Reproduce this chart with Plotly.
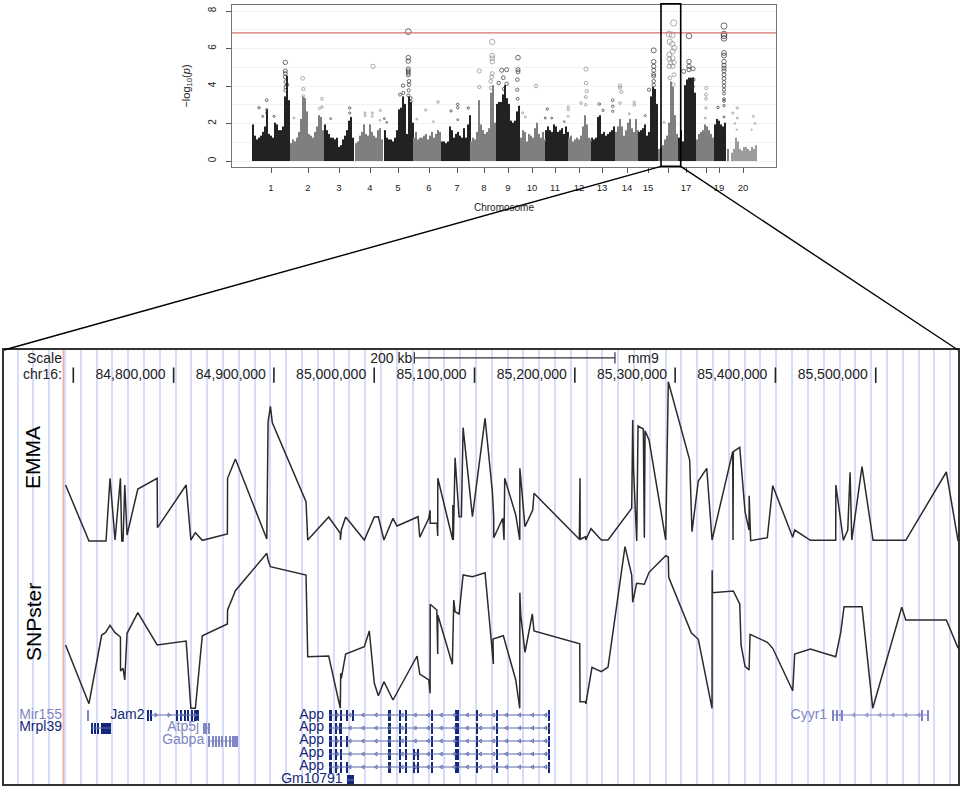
import numpy as np
import plotly.graph_objects as go

W = 963
H = 789

# top panel: manhattan plot, x is in plot units along the genome
chrom_ticks = [39, 76, 107, 138, 166, 197, 225, 252, 276, 300, 323, 347, 370, 395, 416, 454, 487, 511]
chrom_labels = ["1", "2", "3", "4", "5", "6", "7", "8", "9", "10", "11", "12", "13", "14", "15", "17", "19", "20"]
unlabelled_ticks = [436, 474]
y_ticks = [0, 2, 4, 6, 8]
threshold = 6.83

chrom_start = [20, 58, 92, 123, 152, 181, 209, 238, 264, 288, 313, 336, 359, 383, 406, 426, 446, 464, 482, 495, 499]
chrom_shade = ["k", "g", "k", "g", "k", "g", "k", "g", "k", "g", "k", "g", "k", "g", "k", "g", "k", "g", "k", "g", "l"]
chrom_tops = [
    [1.9, 1.3, 1.1, 1.2, 1.3, 1.5, 1.8, 2.7, 1.4, 1.3, 1.2, 2.0, 1.9, 1.6, 1.6, 1.8, 3.4, 4.5, 3.2],
    [0.9, 1.1, 1.0, 1.2, 1.5, 2.2, 3.4, 3.3, 2.6, 1.4, 1.3, 1.2, 1.5, 1.8, 2.4, 2.3, 1.6],
    [1.9, 1.6, 1.4, 1.2, 1.2, 1.1, 1.2, 0.7, 0.8, 1.1, 1.3, 1.6, 2.1, 2.3, 1.2],
    [0.9, 1.0, 1.3, 1.5, 1.9, 1.4, 1.3, 1.9, 1.5, 1.3, 1.2, 1.6, 1.7, 1.1],
    [1.6, 1.2, 1.1, 1.1, 1.0, 1.2, 1.6, 2.7, 2.8, 3.4, 3.0, 1.4, 3.4, 3.1, 2.0],
    [1.2, 1.5, 1.1, 1.2, 1.2, 1.3, 1.4, 1.1, 1.3, 1.5, 1.2, 1.4, 1.6, 1.5],
    [1.0, 1.0, 0.9, 1.0, 1.8, 1.6, 1.2, 1.4, 1.5, 1.3, 1.2, 1.7, 1.2, 1.9, 2.4],
    [1.0, 1.2, 1.1, 1.5, 3.2, 1.9, 1.6, 1.4, 1.5, 1.7, 3.6, 4.0, 2.0],
    [3.0, 3.1, 3.1, 3.5, 4.0, 3.3, 3.0, 2.1, 2.0, 2.1, 2.6, 2.9],
    [1.2, 1.6, 1.5, 1.0, 1.4, 1.3, 1.2, 1.7, 2.0, 1.4, 1.2, 1.5, 1.1],
    [1.6, 1.8, 1.6, 1.5, 1.9, 1.8, 1.5, 1.6, 1.7, 1.4, 1.8, 1.5],
    [1.2, 1.3, 1.0, 1.1, 1.2, 1.1, 1.3, 1.8, 2.4, 1.9, 1.2, 1.1],
    [1.2, 1.1, 1.2, 2.3, 2.4, 1.4, 1.5, 1.3, 1.4, 1.5, 1.6, 1.8],
    [1.5, 1.8, 2.2, 1.8, 1.3, 1.6, 2.0, 2.2, 1.7, 1.5, 2.2, 1.6],
    [1.5, 1.6, 1.7, 1.9, 1.3, 1.5, 3.4, 3.9, 3.8, 3.0],
    [0.6, 0.7, 0.8, 1.1, 1.3, 2.0, 4.2, 3.9, 2.4, 1.4],
    [1.2, 1.6, 1.0, 4.0, 4.3, 4.4, 4.4, 4.4, 3.6],
    [1.1, 1.4, 1.5, 1.6, 1.9, 1.8, 1.6, 1.4, 1.2],
    [1.9, 2.2, 2.1, 1.9, 1.8, 2.0],
    [0.6],
    [0.4, 0.6, 1.2, 1.0, 0.6, 0.5, 0.7, 0.7, 0.6, 0.5, 0.7, 0.6, 0.8],
]

# strongest snps, read one by one
hits_dark_x = [27, 34.7, 53.3, 53.3, 53.3, 53.3, 53.7, 53.7, 53.3, 55, 42, 30.7, 34.7, 34.7,
               98.7, 117.7, 117.7,
               176.3, 176.3, 176.3, 176.3, 176.3, 176.3, 176.3, 177, 177, 176.7, 176.3, 171, 171.3, 168, 178.7, 179, 152.3, 154.7,
               225.7, 225.7, 219, 236.3, 225.7,
               269.7, 274.7, 286, 286, 286, 285.3, 271.3, 266.7, 274.7, 272, 285.3, 285.7,
               315.3, 313.3, 319.7, 332.3,
               367.3, 380.7, 380.7, 380.7, 371,
               421.7, 421.7, 421.7, 421.7, 421.7, 421.7, 421.7, 421.7, 417, 413.3,
               457, 457, 457, 451.7, 461, 457, 461.3, 460.7,
               492, 492, 492, 492, 492, 492, 492, 492, 492, 492, 492, 492, 492, 492, 492, 492, 492, 492, 492, 492, 486]
hits_dark_y = [2.84, 3.24, 5.26, 4.8, 4.66, 4.48, 4.23, 3.95, 3.77, 4.07, 2.38, 2.38, 2.74, 2.56,
               2.26, 2.83, 2.56,
               6.9, 5.51, 5.33, 4.91, 4.8, 4.69, 4.59, 4.25, 4.07, 3.77, 3.5, 4.02, 3.63, 3.54, 3.36, 3.18, 2.26, 2.06,
               3.02, 2.84, 2.67, 2.83, 2.2,
               4.84, 4.87, 5.51, 4.87, 4.76, 4.34, 4.44, 4.16, 4.12, 3.84, 3.8, 3.32,
               2.77, 2.29, 2.29, 2.1,
               3.04, 3.24, 2.92, 2.65, 2.7,
               5.9, 5.3, 5.05, 4.84, 4.62, 4.52, 4.25, 4.05, 3.8, 2.42,
               6.67, 5.3, 5.05, 4.78, 4.92, 4.87, 4.34, 3.98,
               7.2, 6.77, 6.67, 6.54, 5.76, 5.62, 5.3, 5.1, 4.95, 4.8, 4.6, 4.4, 4.2, 4.0, 3.8, 3.6, 3.3, 3.2, 2.95, 2.35, 2.86]
hits_grey_x = [70.7, 71.3, 87.3, 90, 90, 62, 71.3, 72,
               141, 148.3, 133, 133, 140.3, 140.3, 148,
               206, 193.7, 184.7, 201.3,
               247.3, 247.3, 260.3, 260.3, 260.3, 260.3, 260.3, 259.7, 258.7, 259,
               304, 290.7, 293.3,
               354, 354, 354.7, 353.7, 349, 353.7, 336.3, 336.3, 336.3,
               388, 388, 389.3, 388, 402.3, 402.3, 397.3,
               441.7, 437, 440.3, 437.7, 440.3, 442.3, 440.7, 437.3, 437.3, 440.7, 442, 437.3, 440.7, 438.7, 442, 438, 441.3, 432,
               474.3, 474, 474, 474, 473.3,
               505.3, 500.7, 505.3, 521.3, 503, 523, 519.7, 504.7]
hits_grey_y = [4.41, 3.84, 2.8, 3.32, 2.88, 2.3, 3.45, 3.27,
               5.05, 2.7, 2.56, 2.42, 2.56, 2.38, 2.17,
               3.15, 2.72, 2.24, 2.1,
               4.8, 3.95, 6.35, 5.62, 5.48, 5.3, 4.66, 4.48, 4.25, 3.9,
               4.0, 2.56, 2.35,
               4.9, 4.16, 3.73, 3.41, 3.09, 3.0, 2.88, 2.74, 2.38,
               4.02, 3.91, 3.68, 3.09, 3.13, 2.99, 2.52,
               7.36, 6.77, 6.72, 6.36, 6.24, 6.03, 5.85, 5.67, 5.44, 5.49, 5.26, 5.05, 5.05, 5.23, 4.6, 4.43, 4.07, 2.06,
               3.89, 3.54, 3.32, 2.83, 2.29,
               2.83, 2.56, 2.29, 2.38, 2.0, 2.0, 1.67, 1.67]

# lower panel: chr16 tracks, x in kb
coord_ticks = [84700, 84800, 84900, 85000, 85100, 85200, 85300, 85400, 85500]
label_edges = [84792, 84892, 84992, 85092, 85192, 85292, 85392, 85492]
coord_labels = ["84,800,000", "84,900,000", "85,000,000", "85,100,000", "85,200,000", "85,300,000", "85,400,000", "85,500,000"]

emma_pos = [84692.3, 84715.6, 84732.6, 84736.6, 84741.6, 84747, 84748.3, 84749.6, 84751.3, 84753.6, 84764.3, 84783.6,
            84783.9, 84812.5, 84817.2, 84821.7, 84828.6, 84853.6, 84853.8, 84861.6, 84892.9, 84894.2, 84896.5, 84898.4,
            84932, 84933.7, 84954.6, 84966.2, 84966.3, 84967.2, 84971.5, 84990.1, 85000.1, 85004.1, 85009.7, 85018.7,
            85022.7, 85043.7, 85045.4, 85054.4, 85055.7, 85055.8, 85062.6, 85063.3, 85063.4, 85078.3, 85078.4, 85078.9,
            85080.6, 85084.6, 85086.9, 85088.6, 85097.9, 85105.4, 85110.5, 85117.8, 85119.1, 85119.2, 85128.1, 85129.4,
            85130.1, 85141.1, 85145.1, 85145.2, 85150.3, 85158, 85159.3, 85204.5, 85205.2, 85205.3, 85210.8, 85210.9,
            85216.1, 85226.4, 85233.1, 85256.7, 85257.7, 85258.3, 85258.4, 85261.7, 85263, 85268.3, 85269.3, 85270,
            85274, 85290.6, 85293.2, 85314.5, 85316.8, 85323.1, 85331.5, 85336.8, 85357.4, 85357.7, 85358, 85364.4,
            85369.7, 85373.7, 85373.8, 85375.3, 85391.9, 85397.3, 85417.2, 85419.2, 85434.8, 85460.1, 85460.2, 85467.7,
            85472.1, 85474.4, 85476.1, 85486.3, 85497.3, 85529.9, 85570.4, 85582.1]
emma_score = [56, 0, 0, 62.7, 1, 62.7, 0, 0, 56, 6, 52, 62.7,
              13.3, 56, 1, 8.3, 0.7, 7, 62.7, 82, 2, 119.3, 134.7, 118.3,
              39.3, 1, 24, 7.7, 1, 11, 24, 1, 24, 24.3, 1, 22.7,
              15, 24.3, 3.7, 22.7, 30.7, 17.7, 17.7, 5, 62.7, 1, 36, 1,
              83.3, 24.3, 24.3, 113.3, 24.3, 82.7, 122.7, 49.3, 24.3, 3.3, 22.7, 1,
              62.7, 26, 1, 72.7, 14.3, 31, 47.7, 1.7, 62.7, 1.7, 4.3, 1,
              12.3, 1, 1, 32.7, 121, 81, 74.3, 0, 115, 112, 3.3, 110.3,
              101, 1, 159.3, 81, 9.3, 60, 72.7, 1, 89.3, 1, 89.3, 93.7,
              29.3, 11, 45.3, 0.3, 3.3, 55.3, 3.7, 11, 0.7, 0.7, 56, 0.7,
              11, 68.7, 1, 74.3, 0.7, 0.7, 69, 0]

snpster_pos = [84692.3, 84715.6, 84728.3, 84732, 84736.6, 84741.6, 84747, 84747.1, 84749.6, 84751.3, 84753.6, 84764.3,
               84783.6, 84812.5, 84817.2, 84821.7, 84828.6, 84853.6, 84853.8, 84861.6, 84892.9, 84894.2, 84896.5, 84932,
               84933.7, 84954.6, 84966.2, 84966.6, 84967.2, 84971.5, 84990.1, 84995.1, 85000.1, 85004.1, 85009.7, 85018.7,
               85042.7, 85045.4, 85054.4, 85055.7, 85055.8, 85062.4, 85063.3, 85063.4, 85077.9, 85079.3, 85080.6, 85084.6,
               85088.6, 85097.9, 85105.5, 85110.5, 85118.8, 85118.4, 85128.7, 85141.1, 85145.1, 85145.2, 85146.1, 85150.3,
               85157.6, 85159.3, 85204.9, 85205.2, 85210.8, 85210.9, 85217.1, 85226.4, 85233.1, 85250, 85256.7, 85257.7,
               85261.6, 85269.3, 85274, 85290.6, 85293.2, 85293.6, 85316.1, 85323.1, 85336.8, 85336.9, 85337.1, 85358,
               85364.4, 85365.7, 85369.7, 85373.7, 85374.7, 85391.9, 85397.3, 85417.2, 85419.2, 85434.8, 85460.1, 85465.1,
               85468.4, 85486.3, 85497, 85525.9, 85529.9, 85570.4, 85582.1]
snpster_score = [65, 6.3, 75, 77.3, 84.7, 77.3, 73, 39, 41.7, 30, 76.7, 97.3,
                 65, 69, 1.7, 1.7, 74.3, 86, 100, 119.3, 156.7, 150, 143.3, 135,
                 53.3, 54, 1.7, 36.7, 31.7, 56, 63.3, 79, 26.7, 14.3, 28.3, 10,
                 54, 36, 30, 16.7, 105.7, 100, 56, 95, 45.7, 110, 98.3, 96,
                 135, 133.3, 136, 137.3, 46, 71, 74.3, 30, 1.7, 117.3, 95, 57.7,
                 96, 79, 66.3, 8.3, 8.3, 6, 42.7, 38.3, 43, 163.3, 135, 107.7,
                 126.7, 125.7, 137.7, 154.3, 153, 132.7, 77.3, 70.7, 1.7, 139.7, 117.3, 119,
                 106, 65, 43.7, 40, 75.7, 67.7, 61.7, 19.3, 56, 61, 53.3, 77.7,
                 103.3, 103.3, 1.7, 102.7, 90, 90, 61.7]

# genes: exon starts and ends in kb
mir155_exons = ([84714], [84716])
mrpl39_exons = ([84717.6, 84720.9, 84723.6, 84727.6], [84719.9, 84722.6, 84725.6, 84737.3])
jam2_exons = ([84774.4, 84777.1, 84803.1, 84806.4, 84810.1, 84814.1, 84817.1, 84820.4],
              [84775.9, 84777.9, 84804.7, 84808.4, 84812.1, 84815.7, 84819.4, 84825.4])
atp5j_exons = ([84829, 84834.3], [84833.6, 84836.3])
gabpa_exons = ([84834.6, 84839, 84842, 84844.6, 84847.6, 84851, 84855.3, 84858],
               [84836.3, 84840.3, 84843.3, 84846.3, 84849, 84853, 84856.3, 84864.6])
cyyr1_exons = ([85457.1, 85460.4, 85466.1, 85544.8, 85551.8], [85458.3, 85462.4, 85467.4, 85547.4, 85552.8])
gm10791_exons = ([84972.6], [84979.9])
app_start = [84954.9, 84960.9, 84966.6, 85013.5, 85025.1, 85030.8, 85057.4, 85080.7, 85101.5, 85122.1, 85173.8]
app_end = [84958.2, 84962.6, 84968.2, 85017.1, 85027.1, 85032.5, 85058.7, 85084.7, 85103, 85123.4, 85175.3]
app_extra = [([84971.9, 84978.6], [84973.2, 84979.9]),
             ([84964.5], [84966.5]),
             ([84971.9], [84973.2]),
             ([85039, 85043.4], [85040.7, 85044.7]),
             ([84971.9, 85039, 85043.4], [84973.2, 85040.7, 85044.7])]

DARK_GENE = "#14287a"
LIGHT_GENE = "#7f86c1"
INTRON = "#5f6aaa"
INK = "#2b2b2b"

fig = go.Figure()

# manhattan body: solid low part, thinner comb up to the top of each bin
for start, shade, tops in zip(chrom_start, chrom_shade, chrom_tops):
    col = {"k": "#222222", "g": "#7f7f7f", "l": "#9c9c9c"}[shade]
    xs = [start + 2 * i + 1 for i in range(len(tops))]
    fig.add_trace(go.Bar(x=xs, y=[t * 0.62 for t in tops], width=2, marker=dict(color=col, line=dict(width=0)), xaxis="x", yaxis="y"))
    fig.add_trace(go.Bar(x=xs, y=tops, width=1.2, marker=dict(color=col, line=dict(width=0)), xaxis="x", yaxis="y"))
    fig.add_trace(go.Scatter(x=xs, y=tops, mode="markers", marker=dict(size=2.2, color=col), xaxis="x", yaxis="y"))

fig.add_trace(go.Scatter(x=hits_dark_x, y=hits_dark_y, mode="markers", xaxis="x", yaxis="y",
                         marker=dict(symbol="circle-open", size=[v * 0.85 for v in hits_dark_y], color="#333333", line=dict(width=1))))
fig.add_trace(go.Scatter(x=hits_grey_x, y=hits_grey_y, mode="markers", xaxis="x", yaxis="y",
                         marker=dict(symbol="circle-open", size=[v * 0.85 for v in hits_grey_y], color="#8a8a8a", line=dict(width=1))))

# tracks
fig.add_trace(go.Scatter(x=emma_pos, y=emma_score, mode="lines", line=dict(color=INK, width=1.5), xaxis="x3", yaxis="y3"))
fig.add_trace(go.Scatter(x=snpster_pos, y=snpster_score, mode="lines", line=dict(color=INK, width=1.5), xaxis="x3", yaxis="y4"))


def add_gene(name, row, label_x, exons, direction, col):
    starts, ends = exons
    lo, hi = min(starts), max(ends)
    line_col = INTRON if col == DARK_GENE else col
    if hi - lo > 30:
        chevrons = list(np.arange(lo + 8, hi - 2, 13))
        fig.add_trace(go.Scatter(x=chevrons, y=[row] * len(chevrons), mode="markers", xaxis="x3", yaxis="y5",
                                 marker=dict(symbol="triangle-%s-open" % direction, size=3.5, color=line_col, line=dict(width=0.9))))
    fig.add_trace(go.Scatter(x=[lo, hi], y=[row, row], mode="lines", line=dict(color=line_col, width=1.2), xaxis="x3", yaxis="y5"))
    fig.add_trace(go.Bar(y=[row] * len(starts), x=[e - s for s, e in zip(starts, ends)], base=starts, orientation="h",
                         width=0.8, marker=dict(color=col, line=dict(width=0)), xaxis="x3", yaxis="y5"))
    fig.add_trace(go.Scatter(x=[label_x], y=[row], mode="text", text=[name], textposition="middle left",
                             textfont=dict(family="Liberation Sans", size=14, color=col), cliponaxis=False,
                             xaxis="x3", yaxis="y5"))


add_gene("Mir155", 0, 84688.7, mir155_exons, "left", LIGHT_GENE)
add_gene("Mrpl39", 1, 84688.7, mrpl39_exons, "left", DARK_GENE)
add_gene("Jam2", 0, 84771, jam2_exons, "right", DARK_GENE)
add_gene("Atp5j", 1, 84825.5, atp5j_exons, "right", LIGHT_GENE)
add_gene("Gabpa", 2, 84830.5, gabpa_exons, "right", LIGHT_GENE)
add_gene("Cyyr1", 0, 85451.5, cyyr1_exons, "left", LIGHT_GENE)
add_gene("Gm10791", 5, 84968.5, gm10791_exons, "left", DARK_GENE)
for row, (extra_s, extra_e) in enumerate(app_extra):
    add_gene("App", row, 84950, (app_start + extra_s, app_end + extra_e), "left", DARK_GENE)

# browser header sits on the last axis so the guide lines stay behind it
fig.add_trace(go.Scatter(x=coord_ticks, y=[0.942] * len(coord_ticks), mode="markers", xaxis="x3", yaxis="y6",
                         marker=dict(symbol="line-ns", size=11, line=dict(width=1.6, color="#222222"))))
fig.add_trace(go.Scatter(x=label_edges, y=[0.942] * len(label_edges), mode="text", text=coord_labels,
                         textposition="middle left", xaxis="x3", yaxis="y6", cliponaxis=False,
                         textfont=dict(family="Liberation Sans", size=14, color="#222222")))
fig.add_trace(go.Scatter(x=[85040, 85240], y=[0.982, 0.982], mode="lines+markers", xaxis="x3", yaxis="y6",
                         line=dict(color="#333333", width=1.2),
                         marker=dict(symbol="line-ns", size=8, line=dict(width=1.2, color="#333333"))))
fig.add_trace(go.Scatter(x=[84688.7, 84688.7, 85038], y=[0.977, 0.942, 0.977], mode="text", xaxis="x3", yaxis="y6",
                         text=["Scale", "chr16:", "200 kb"], textposition="middle left", cliponaxis=False,
                         textfont=dict(family="Liberation Sans", size=14, color="#222222")))
fig.add_trace(go.Scatter(x=[85252.7], y=[0.977], mode="text", xaxis="x3", yaxis="y6",
                         text=["mm9"], textposition="middle right", cliponaxis=False,
                         textfont=dict(family="Liberation Sans", size=14, color="#222222")))

hidden = dict(showgrid=False, zeroline=False, showticklabels=False, ticks="", showline=False)

fig.update_layout(
    width=W, height=H, margin=dict(l=0, r=0, t=0, b=0), showlegend=False,
    paper_bgcolor="white", plot_bgcolor="rgba(0,0,0,0)", barmode="overlay", bargap=0,
    font=dict(family="Liberation Sans", color="#222222"),
    xaxis=dict(domain=[232 / W, 776 / W], range=[0, 544], anchor="y", tickmode="array", tickvals=chrom_ticks,
               ticktext=chrom_labels, ticks="outside", ticklen=5, tickcolor="#555555", tickfont=dict(size=9.5),
               ticklabelstandoff=6, showgrid=False, zeroline=False, showline=True, mirror=True,
               linecolor="#777777", linewidth=1.2,
               minor=dict(tickmode="array", tickvals=unlabelled_ticks, ticks="outside", ticklen=5, tickcolor="#555555", showgrid=False),
               title=dict(text="Chromosome", font=dict(size=10), standoff=12)),
    yaxis=dict(domain=[(H - 167) / H, (H - 5) / H], range=[-0.32, 8.32], anchor="x", tickmode="array", tickvals=y_ticks,
               ticks="outside", ticklen=5, tickcolor="#555555", tickangle=-90, tickfont=dict(size=10), ticklabelstandoff=6,
               showgrid=True, gridcolor="#f2f2f2", zeroline=False, showline=True, mirror=True,
               linecolor="#777777", linewidth=1.2,
               minor=dict(dtick=1, showgrid=True, gridcolor="#f2f2f2", ticks=""),
               title=dict(text="\u2212log<sub>10</sub>(<i>p</i>)", font=dict(size=11), standoff=14)),
    # guide lines and frame of the browser view
    xaxis2=dict(domain=[4 / W, 958 / W], range=[84630.9, 85582], anchor="y2", tick0=84707.4, dtick=15.76,
                showgrid=True, gridcolor="#d8dcfb", gridwidth=1.5, zeroline=False, showticklabels=False, ticks="",
                showline=True, mirror=True, linecolor="#333333", linewidth=1.8),
    yaxis2=dict(domain=[5 / H, 439 / H], range=[0, 1], anchor="x2", showgrid=False, zeroline=False,
                showticklabels=False, ticks="", showline=True, mirror=True, linecolor="#333333", linewidth=1.8),
    xaxis3=dict(domain=[4 / W, 958 / W], range=[84630.9, 85582], anchor="y6", **hidden),
    yaxis3=dict(domain=[244 / H, 439 / H], range=[-4, 191], anchor="x3", **hidden),
    yaxis4=dict(domain=[77 / H, 244 / H], range=[-2, 165], anchor="x3", **hidden),
    yaxis5=dict(domain=[5 / H, 80.5 / H], range=[5.31, -0.5], anchor="x3", **hidden),
    yaxis6=dict(domain=[5 / H, 439 / H], range=[0, 1], anchor="x3", **hidden),
    annotations=[
        dict(text="EMMA", x=33 / W, y=(H - 458) / H, xref="paper", yref="paper", textangle=-90, showarrow=False,
             xanchor="center", yanchor="middle", font=dict(size=21, color="black")),
        dict(text="SNPster", x=33 / W, y=(H - 622) / H, xref="paper", yref="paper", textangle=-90, showarrow=False,
             xanchor="center", yanchor="middle", font=dict(size=21, color="black")),
    ],
    shapes=[
        dict(type="line", xref="x domain", yref="y", x0=0, x1=1, y0=threshold, y1=threshold,
             line=dict(color="#d2706f", width=1.3)),
        dict(type="line", xref="x2", yref="y2", x0=84690, x1=84690, y0=0, y1=1, line=dict(color="#f0aeae", width=1.5)),
        # zoom box round chr16 and its two lines down to the browser view
        dict(type="rect", xref="paper", yref="paper", x0=661 / W, x1=680.7 / W, y0=(H - 166.3) / H, y1=(H - 3.7) / H,
             line=dict(color="black", width=1.6)),
        dict(type="line", xref="paper", yref="paper", x0=661 / W, x1=4 / W, y0=(H - 166.3) / H, y1=(H - 350) / H,
             line=dict(color="black", width=1.4)),
        dict(type="line", xref="paper", yref="paper", x0=680.7 / W, x1=958 / W, y0=(H - 166.3) / H, y1=(H - 350) / H,
             line=dict(color="black", width=1.4)),
    ],
)

fig.write_html("out.html", config=dict(displayModeBar=False),
               post_script="document.body.style.margin='0';document.body.style.overflow='hidden';")
